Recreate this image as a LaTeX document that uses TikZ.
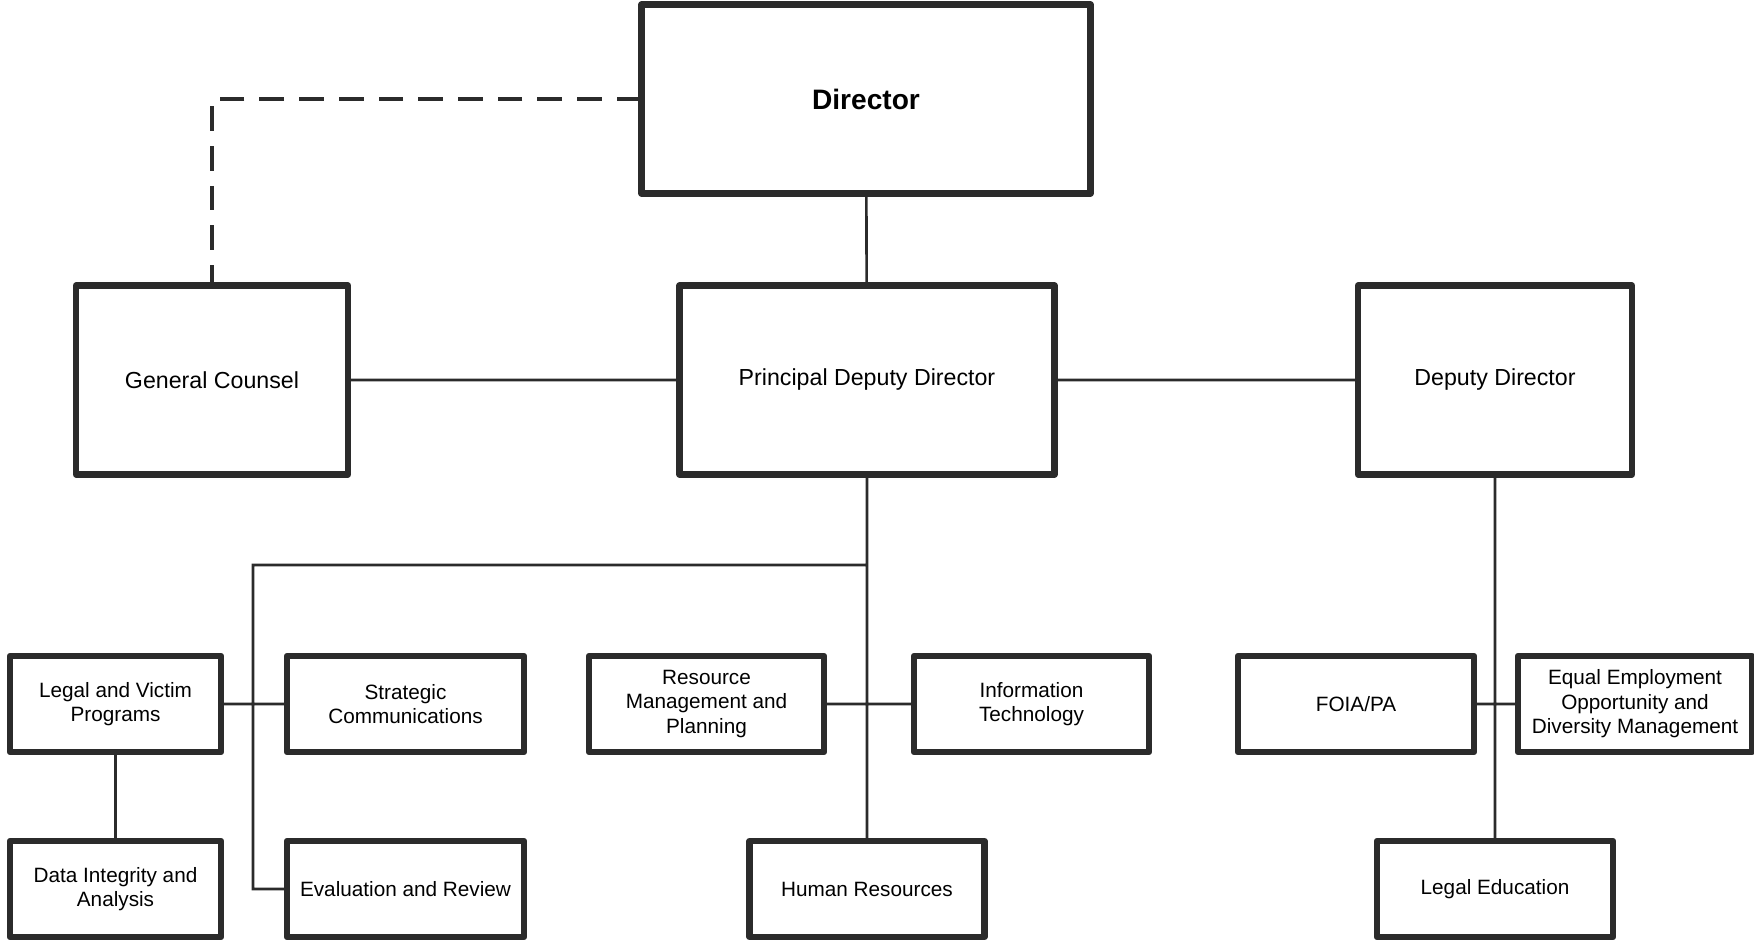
\documentclass[tikz,border=0pt]{standalone}
\usepackage{fontspec}
\setmainfont{Liberation Sans}
\usepackage{tikz}
\definecolor{ink}{rgb}{0.17,0.17,0.17}
\tikzstyle{big}   = [draw=ink, line width=1.8pt, line join=round, inner sep=0pt, outer sep=0pt, align=center, minimum height=18.9mm, font=\fontsize{6.6}{8}\selectfont]
\tikzstyle{small} = [draw=ink, line width=1.8pt, line join=round, inner sep=0pt, outer sep=0pt, align=center, minimum height=9.6mm, font=\fontsize{5.9}{7}\selectfont]
\tikzstyle{link}  = [draw=ink, line width=0.75pt]
\tikzstyle{dashlink} = [draw=ink, line width=1.1pt, dash pattern=on 7pt off 4.3pt]

\begin{document}
\begin{tikzpicture}[x=0.1mm, y=-0.1mm]
\useasboundingbox (0,0) rectangle (1754,941);

% top
\node [big, minimum width=44.9mm, font=\fontsize{8}{9.6}\selectfont\bfseries] at ( 866 , 99 ) (director) {Director};
\node [big, minimum width=27.2mm] at ( 212 , 380 ) (counsel)  {General Counsel};
\node [big, minimum width=37.5mm] at ( 867 , 380 ) (pdd)      {Principal Deputy Director};
\node [big, minimum width=27.4mm] at ( 1495, 380 ) (deputy)   {Deputy Director};

% offices
\node [small, minimum width=21.1mm] at ( 115.5 , 704 ) (victim)   {Legal and Victim\\Programs};
\node [small, minimum width=23.7mm] at ( 405.5 , 704 ) (comms)    {Strategic\\Communications};
\node [small, minimum width=23.5mm] at ( 706.5 , 704 ) (resource) {Resource\\Management and\\Planning};
\node [small, minimum width=23.5mm] at ( 1031.5, 704 ) (infotech) {Information\\Technology};
\node [small, minimum width=23.6mm] at ( 1356  , 704 ) (foia)     {FOIA/PA};
\node [small, minimum width=23.4mm] at ( 1635  , 704 ) (eeo)      {Equal Employment\\Opportunity and\\Diversity Management};
\node [small, minimum width=21.1mm] at ( 115.5 , 889 ) (data)     {Data Integrity and\\Analysis};
\node [small, minimum width=23.7mm] at ( 405.5 , 889 ) (review)   {Evaluation and Review};
\node [small, minimum width=23.5mm] at ( 867   , 889 ) (hr)       {Human Resources};
\node [small, minimum width=23.6mm] at ( 1495  , 889 ) (legaledu) {Legal Education};

\coordinate (split) at ( 867 , 565 );
\coordinate (bend)  at ( 253 , 565 );

% edges
\path [dashlink] (director.west) -| (counsel.north);
\path [link] (director) -- (pdd)
             (counsel)  -- (pdd)
             (pdd)      -- (deputy)
             (pdd)      -- (hr)
             (split)    -- (bend) |- (review.west)
             (victim)   -- (comms)
             (victim)   -- (data)
             (resource) -- (infotech)
             (deputy)   -- (legaledu)
             (foia)     -- (eeo);

\end{tikzpicture}
\end{document}
